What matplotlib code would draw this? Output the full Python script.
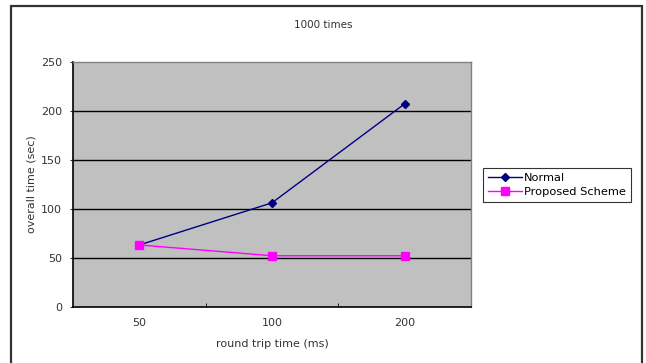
import matplotlib
matplotlib.use("Agg")
import matplotlib.pyplot as plt
from matplotlib.patches import Rectangle

# round trip time categories and overall time per scheme
rtt_labels = ["50", "100", "200"]
normal_times = [63, 106, 207]
proposed_times = [63, 52, 52]
y_ticks = [0, 50, 100, 150, 200, 250]

plt.rcParams['font.family'] = ['DejaVu Sans']
plt.rcParams['font.size'] = 8

fig = plt.figure(figsize=(6.46, 3.63), dpi=100)

# outer chart frame (bottom edge runs off the canvas)
frame = Rectangle((11 / 646, -0.05), (641.5 - 11) / 646, (363 - 6) / 363 + 0.05,
                  transform=fig.transFigure, fill=False, edgecolor='#333333',
                  linewidth=1.6, clip_on=False)
fig.patches.append(frame)

ax = fig.add_axes([73 / 646, (363 - 306.7) / 363, (471 - 73) / 646, (306.7 - 61.7) / 363])
ax.set_facecolor('#C0C0C0')

x = list(range(len(rtt_labels)))
ax.plot(x, normal_times, color='#000080', linewidth=1, marker='D', markersize=4,
        label='Normal', zorder=3)
ax.plot(x, proposed_times, color='#FF00FF', linewidth=1, marker='s', markersize=5.5,
        label='Proposed Scheme', zorder=3)

ax.set_xlim(-0.5, len(rtt_labels) - 0.5)
ax.set_ylim(0, 250)
ax.set_yticks(y_ticks)
for v in y_ticks[1:-1]:
    ax.axhline(v, color='black', linewidth=1, zorder=1)

ax.set_xticks(x)
ax.set_xticklabels(rtt_labels)
ax.tick_params(axis='x', length=0, pad=8, colors='#333333')
ax.set_xticks([0.5, 1.5], minor=True)
ax.tick_params(axis='x', which='minor', direction='in', length=3, color='black')
ax.tick_params(axis='y', length=2, pad=6, colors='#333333')

for side in ['left', 'bottom']:
    ax.spines[side].set_color('black')
    ax.spines[side].set_linewidth(1.2)
for side in ['top', 'right']:
    ax.spines[side].set_color('#808080')
    ax.spines[side].set_linewidth(1)

ax.set_xlabel('round trip time (ms)', color='#333333', labelpad=8)
ax.set_ylabel('overall time (sec)', color='#333333', labelpad=3)

fig.text(323 / 646, 1 - 25 / 363, '1000 times', ha='center', va='center',
         fontsize=7.5, color='#333333')

leg = ax.legend(loc='center left', bbox_to_anchor=(482.5 / 646, 1 - 185 / 363),
                bbox_transform=fig.transFigure, frameon=True, fancybox=False,
                fontsize=8.2, borderpad=0.45, labelspacing=0.4, handlelength=3.0,
                handletextpad=0.15, borderaxespad=0)
leg.get_frame().set_edgecolor('black')
leg.get_frame().set_linewidth(0.8)

fig.savefig('out.png', dpi=100)
